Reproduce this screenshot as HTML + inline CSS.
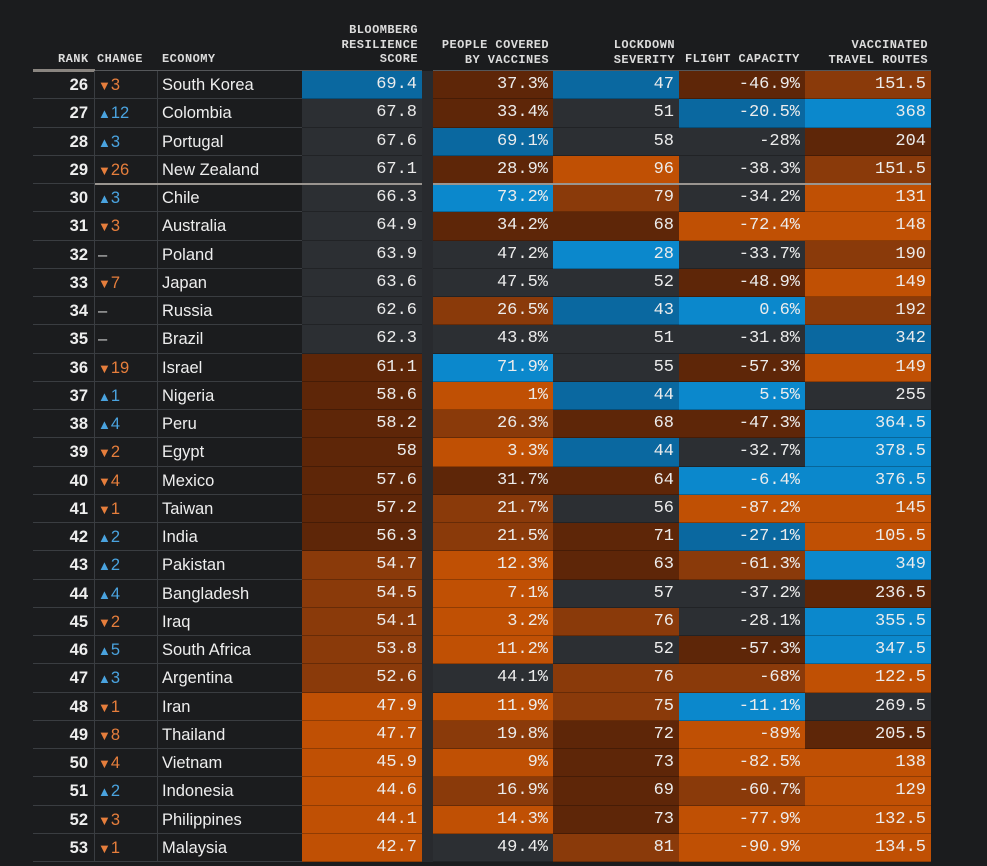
<!DOCTYPE html>
<html><head><meta charset="utf-8">
<style>
body{margin:0;background:#1b1c1e;width:987px;height:866px;overflow:hidden;position:relative;font-family:"Liberation Sans",sans-serif}
.h{position:absolute;font-family:"Liberation Mono",monospace;font-weight:bold;font-size:12px;color:#dcdcdc;line-height:14.5px;letter-spacing:0.45px}
.c{position:absolute;box-sizing:border-box;height:28.25px;line-height:28px;border-bottom:1px solid #3a3d41}
.n{font-family:"Liberation Mono",monospace;font-size:17px;color:#ececec;text-align:right;padding-right:5px}
.rk{font-weight:bold;font-size:16.5px;color:#eee;text-align:right;padding-right:6px;border-right:1px solid #3a3d41}
.ch{font-size:16.5px;padding-left:3px;border-right:1px solid #3a3d41}
.ec{font-size:16.5px;color:#eee;padding-left:4px}
</style></head><body>
<div id="root"></div>
<script>
const ranks=[26,27,28,29,30,31,32,33,34,35,36,37,38,39,40,41,42,43,44,45,46,47,48,49,50,51,52,53];
const changes=["-3","+12","+3","-26","+3","-3","","-7","","","-19","+1","+4","-2","-4","-1","+2","+2","+4","-2","+5","+3","-1","-8","-4","+2","-3","-1"];
const economies=["South Korea","Colombia","Portugal","New Zealand","Chile","Australia","Poland","Japan","Russia","Brazil","Israel","Nigeria","Peru","Egypt","Mexico","Taiwan","India","Pakistan","Bangladesh","Iraq","South Africa","Argentina","Iran","Thailand","Vietnam","Indonesia","Philippines","Malaysia"];
const scores=["69.4","67.8","67.6","67.1","66.3","64.9","63.9","63.6","62.6","62.3","61.1","58.6","58.2","58","57.6","57.2","56.3","54.7","54.5","54.1","53.8","52.6","47.9","47.7","45.9","44.6","44.1","42.7"];
const vaccines=["37.3%","33.4%","69.1%","28.9%","73.2%","34.2%","47.2%","47.5%","26.5%","43.8%","71.9%","1%","26.3%","3.3%","31.7%","21.7%","21.5%","12.3%","7.1%","3.2%","11.2%","44.1%","11.9%","19.8%","9%","16.9%","14.3%","49.4%"];
const lockdown=["47","51","58","96","79","68","28","52","43","51","55","44","68","44","64","56","71","63","57","76","52","76","75","72","73","69","73","81"];
const flight=["-46.9%","-20.5%","-28%","-38.3%","-34.2%","-72.4%","-33.7%","-48.9%","0.6%","-31.8%","-57.3%","5.5%","-47.3%","-32.7%","-6.4%","-87.2%","-27.1%","-61.3%","-37.2%","-28.1%","-57.3%","-68%","-11.1%","-89%","-82.5%","-60.7%","-77.9%","-90.9%"];
const routes=["151.5","368","204","151.5","131","148","190","149","192","342","149","255","364.5","378.5","376.5","145","105.5","349","236.5","355.5","347.5","122.5","269.5","205.5","138","129","132.5","134.5"];
const scoreCls="B1 G G G G G G G G G D1 D1 D1 D1 D1 D1 D1 D2 D2 D2 D2 D2 O O O O O O".split(" ");
const vacCls="D1 D1 B1 D1 B2 D1 G G D2 G B2 O D2 O D1 D2 D2 O O O O G O D2 O D2 O G".split(" ");
const lockCls="B1 G G O D2 D1 B2 G B1 G G B1 D1 B1 D1 G D1 D1 G D2 G D2 D2 D1 D1 D1 D1 D2".split(" ");
const flightCls="D1 B1 G G G O G D1 B2 G D1 B2 D1 G B2 O B1 D2 G G D1 D2 B2 O O D2 O O".split(" ");
const routeCls="D2 B2 D1 D2 O O D2 O D2 B1 O G B2 B2 B2 O O B2 D1 B2 B2 O G D1 O O O O".split(" ");
const COL={B2:"#0b88cc",B1:"#0a68a0",G:"#2c2f33",D1:"#5e2608",D2:"#8a3a0a",O:"#c05004"};
const root=document.getElementById('root');
function mk(cls,x,y,w,txt,bg){const d=document.createElement('div');d.className=cls;d.style.left=x+'px';d.style.top=y+'px';d.style.width=w+'px';if(bg)d.style.background=bg;d.textContent=txt;root.appendChild(d);return d;}
const hdr=[[58,52,"RANK",""],[97,52,"CHANGE",""],[162,52,"ECONOMY",""],[320,23,"BLOOMBERG<br>RESILIENCE<br>SCORE","r418"],[430,38,"PEOPLE COVERED<br>BY VACCINES","r549"],[560,38,"LOCKDOWN<br>SEVERITY","r675"],[685,52,"FLIGHT CAPACITY",""],[800,38,"VACCINATED<br>TRAVEL ROUTES","r928"]];
const hn=["rank-header","change-header","economy-header","score-header","vaccines-header","lockdown-header","flight-header","routes-header"];
hdr.forEach((h,i)=>{const d=document.createElement('div');d.className='h';d.innerHTML=h[2];
if(h[3]){d.style.right=(987-parseInt(h[3].slice(1)))+'px';d.style.textAlign='right';}else d.style.left=h[0]+'px';
d.style.top=h[1]+'px';


root.appendChild(d);});
const u=mk('',33,69,62,'','#8a8580');u.style.position='absolute';u.style.height='3px';


const ln=mk('',95,70,327,'','#55575a');ln.style.position='absolute';ln.style.height='1px';


const ln2=mk('',433,70,498,'','#55575a');ln2.style.position='absolute';ln2.style.height='1px';


const gap=mk('',422,71,11,'','#282a2e');gap.style.position='absolute';gap.style.height='791px';


const RH=28.25,Y0=71;
ranks.forEach((r,i)=>{
 const y=Y0+i*RH;
 let d=mk('c rk',33,y,62,r);
 
 
 const c=changes[i];let t='–',col='#ccc';
 if(c[0]=='+'){t='▲'+c.slice(1);col='#4aa3df';} else if(c[0]=='-'){t='▼'+c.slice(1);col='#e67e3c';}
 d=mk('c ch',95,y,63,'');d.style.color=col;
 if(c){d.innerHTML='<span style="font-size:13px">'+t[0]+'</span>'+t.slice(1);}else d.textContent='–';
 
 
 d=mk('c ec',158,y,144,economies[i]);
 
 
 const cols=[[302,120,scores,scoreCls,'score-cell'],[433,120,vaccines,vacCls,'vaccines-cell'],[553,126,lockdown,lockCls,'lockdown-cell'],[679,126,flight,flightCls,'flight-cell'],[805,126,routes,routeCls,'routes-cell']];
 cols.forEach(cc=>{d=mk('c n',cc[0],y,cc[1],cc[2][i],COL[cc[3][i]]);
 d.style.borderBottomColor='rgba(0,0,0,0.25)';
 
 });
});
const dv=mk('',95,Y0+4*RH-1,327,'','#9a9590');dv.style.position='absolute';dv.style.height='1.5px';


const dv2=mk('',433,Y0+4*RH-1,498,'','#9a9590');dv2.style.position='absolute';dv2.style.height='1.5px';


</script>
</body></html>
